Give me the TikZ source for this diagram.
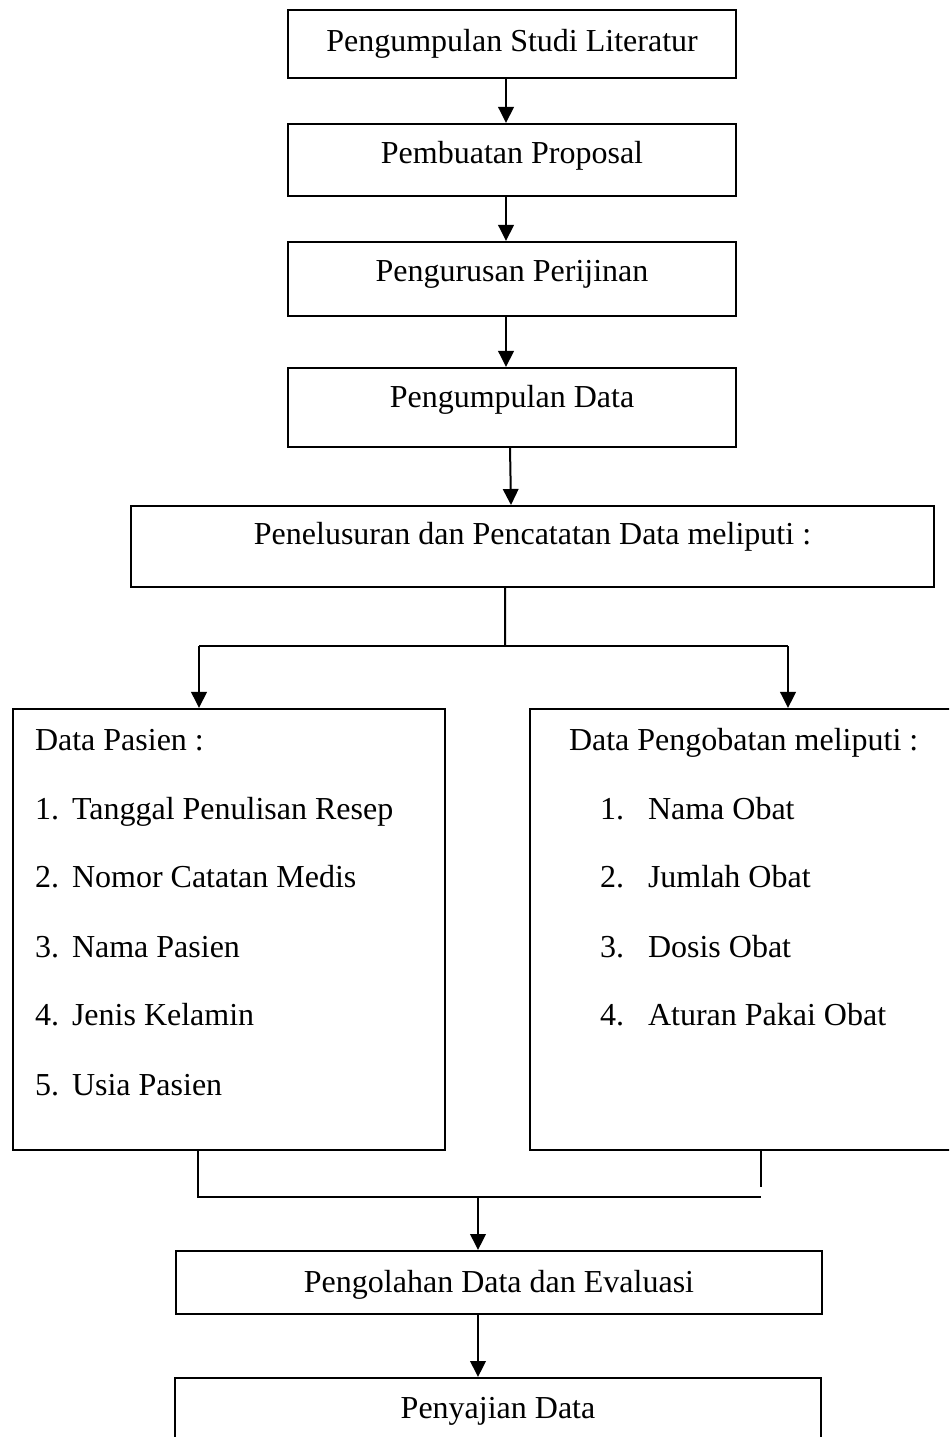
\documentclass[tikz,border=0pt]{standalone}
\usepackage{fontspec}
\setmainfont{Liberation Serif}
\usetikzlibrary{arrows.meta}
\tikzset{
  box/.style={draw, inner sep=0pt, align=center, text height=8.5pt, text depth=#1},
  box/.default=2.8pt,
  item/.style={anchor=base west, inner sep=0pt},
}
\begin{document}
\begin{tikzpicture}[x=0.4pt, y=-0.4pt, >={Triangle[length=6.4pt,width=6.2pt]}, line width=0.8pt,
  font=\fontsize{12.8}{15}\selectfont]
\clip (0,0) rectangle (949,1437);
% langkah awal
\node[box, minimum width=179.2pt, minimum height=27.2pt] (lit) at (512,44) {Pengumpulan Studi Literatur};
\node[box=6pt, minimum width=179.2pt, minimum height=28.8pt] (prop) at (512,160) {Pembuatan Proposal};
\node[box=6.8pt, minimum width=179.2pt, minimum height=29.6pt] (izin) at (512,279) {Pengurusan Perijinan};
\node[box=8.4pt, minimum width=179.2pt, minimum height=31.6pt] (kumpul) at (512,407.5) {Pengumpulan Data};
\node[box=10pt, minimum width=321.2pt, minimum height=32.4pt] (telusur) at (532.5,546.5) {Penelusuran dan Pencatatan Data meliputi :};
% dua kotak data
\node[draw, inner sep=0pt, minimum width=172.8pt, minimum height=176.4pt] (pasien) at (229,929.5) {};
\node[draw, inner sep=0pt, minimum width=180pt, minimum height=176.4pt] (obat) at (755,929.5) {};
\node[item] (pashead) at (34,750) {Data Pasien :};
\node[item] (pasno1) at (34,819) {1.};
\node[item] (pas1) at (71,819) {Tanggal Penulisan Resep};
\node[item] (pasno2) at (34,887) {2.};
\node[item] (pas2) at (71,887) {Nomor Catatan Medis};
\node[item] (pasno3) at (34,957) {3.};
\node[item] (pas3) at (71,957) {Nama Pasien};
\node[item] (pasno4) at (34,1025) {4.};
\node[item] (pas4) at (71,1025) {Jenis Kelamin};
\node[item] (pasno5) at (34,1095) {5.};
\node[item] (pas5) at (71,1095) {Usia Pasien};
\node[item] (obhead) at (568,750) {Data Pengobatan meliputi :};
\node[item] (obno1) at (599,819) {1.};
\node[item] (ob1) at (647,819) {Nama Obat};
\node[item] (obno2) at (599,887) {2.};
\node[item] (ob2) at (647,887) {Jumlah Obat};
\node[item] (obno3) at (599,957) {3.};
\node[item] (ob3) at (647,957) {Dosis Obat};
\node[item] (obno4) at (599,1025) {4.};
\node[item] (ob4) at (647,1025) {Aturan Pakai Obat};
% langkah akhir
\node[box=0.4pt, minimum width=258.4pt, minimum height=25.2pt] (olah) at (499,1282.5) {Pengolahan Data dan Evaluasi};
\node[box=9.2pt, minimum width=258.4pt, minimum height=32.8pt] (saji) at (498,1419) {Penyajian Data};
% panah
\draw[->] ([xshift=-2.4pt]lit.south) -- ([xshift=-2.4pt]prop.north);
\draw[->] ([xshift=-2.4pt]prop.south) -- ([xshift=-2.4pt]izin.north);
\draw[->] ([xshift=-2.4pt]izin.south) -- ([xshift=-2.4pt]kumpul.north);
\draw[->] ([xshift=-0.8pt]kumpul.south) -- ([xshift=-8.6pt]telusur.north);
\coordinate (fork) at (505,646);
\coordinate (forkL) at (199,646);
\coordinate (forkR) at (788,646);
\draw ([xshift=-11pt]telusur.south) -- (fork);
\draw (forkL) -- (forkR);
\draw[->] (forkL) -- (forkL |- pasien.north);
\draw[->] (forkR) -- (forkR |- obat.north);
\coordinate (joinL) at (198,1197);
\coordinate (joinR) at (761,1197);
\coordinate (joinRend) at (761,1187);
\coordinate (join) at (478,1197);
\draw (joinL |- pasien.south) -- (joinL) -- (joinR);
\draw (joinR |- obat.south) -- (joinRend);
\draw[->] (join) -- (join |- olah.north);
\draw[->] ([xshift=-8.4pt]olah.south) -- ([xshift=-8pt]saji.north);
\end{tikzpicture}
\end{document}
